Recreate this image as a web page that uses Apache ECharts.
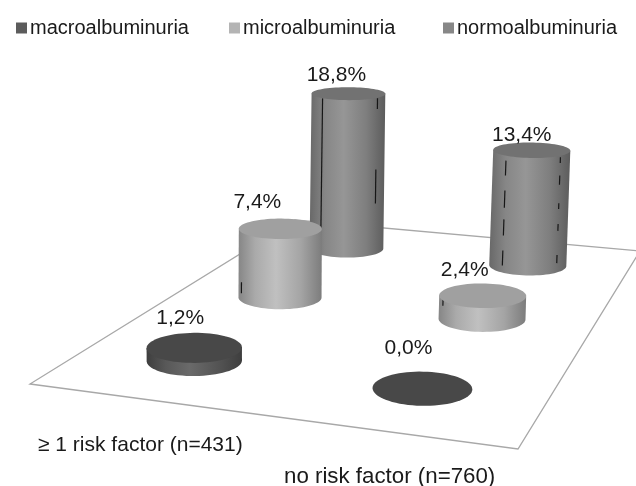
<!DOCTYPE html>
<html>
<head>
<meta charset="utf-8">
<style>html,body{margin:0;padding:0;background:#fff}#c{width:636px;height:486px}</style>
<script src="https://cdn.jsdelivr.net/npm/echarts@6/dist/echarts.min.js"></script>
</head>
<body>
<div id="c"></div>
<script>
// ---- data ----
const categories = ['\u2265 1 risk factor (n=431)', 'no risk factor (n=760)'];
const seriesNames = ['macroalbuminuria', 'microalbuminuria', 'normoalbuminuria'];
const macroalbuminuria = [1.2, 0.0];
const microalbuminuria = [7.4, 2.4];
const normoalbuminuria = [18.8, 13.4];

// ---- layout and style ----
const FAMILY = '"Liberation Sans", Arial, sans-serif';
const FONT = '21px ' + FAMILY;
const floorCorners = [[30, 384], [518, 449], [640, 251], [295, 220]]; // FL, FR, BR, BL
const depthOf = [1 / 6, 1 / 2, 5 / 6];
const screenNudge = [-1, -1.5, -2];
const legendColors = ['#5c5c5c', '#b4b4b4', '#878787'];
const legendLefts = [16, 229, 443];
const topColors = ['#484848', '#a0a0a0', '#727272'];
const sideStops = [
  ['#3e3e3e', '#585858', '#6a6a6a', '#545454', '#3e3e3e'],
  ['#868686', '#aaaaaa', '#c0c0c0', '#a4a4a4', '#7c7c7c'],
  ['#686868', '#868686', '#969696', '#7e7e7e', '#5c5c5c']
];
const labelOffsets = [
  [[-14, -30], [-14, -41]],
  [[-23, -27], [-18, -26]],
  [[-12, -18], [-10, -15]]
];
const categoryLabelPos = [[38, 445, 21], [284, 477, 22.3]];
const streaks = {
  '1-0': [[-.93, .78, .94]],
  '1-1': [[-.91, .14, .43]],
  '2-0': [[-.70, .03, .88], [.79, .03, .10], [.77, .49, .71]],
  '2-1': [[-.66, .09, .22], [-.66, .35, .50], [-.66, .60, .74], [-.66, .87, 1],
          [.75, .06, .11], [.75, .22, .30], [.75, .46, .51], [.75, .64, .70], [.75, .91, .98]]
};

// perspective map of the floor square
function makeHomography(q) {
  const [[x0, y0], [x1, y1], [x2, y2], [x3, y3]] = q;
  const dx1 = x1 - x2, dx2 = x3 - x2, sx = x0 - x1 + x2 - x3;
  const dy1 = y1 - y2, dy2 = y3 - y2, sy = y0 - y1 + y2 - y3;
  const det = dx1 * dy2 - dx2 * dy1;
  const g = (sx * dy2 - dx2 * sy) / det, h = (dx1 * sy - sx * dy1) / det;
  const a = x1 - x0 + g * x1, b = x3 - x0 + h * x3, d = y1 - y0 + g * y1, e = y3 - y0 + h * y3;
  return (u, v) => {
    const w = g * u + h * v + 1;
    return [(a * u + b * v + x0) / w, (d * u + e * v + y0) / w];
  };
}
const floorMap = makeHomography(floorCorners);
const RU = 0.1, RW = 0.067, N = 72;

function renderCylinder(params, api) {
  const s = seriesNames.indexOf(params.seriesName);
  const cs = params.coordSys;
  const pt = api.coord([api.value(0), 0]);
  const u = (pt[0] - cs.x) / cs.width;
  const v = depthOf[s];
  const cat = params.dataIndex;
  let base = [];
  for (let i = 0; i < N; i++) {
    const t = i / N * Math.PI * 2;
    const p = floorMap(u + RU * Math.cos(t), v + RW * Math.sin(t));
    base.push([p[0] + screenNudge[s], p[1]]);
  }
  let xs = base.map(p => p[0]);
  const minX = Math.min(...xs), maxX = Math.max(...xs);
  const iMin = xs.indexOf(minX), iMax = xs.indexOf(maxX);
  const cx = (minX + maxX) / 2;
  // ease the ellipse tilt: the reference's discs sit almost level
  const shear = 0.6 * (base[iMax][1] - base[iMin][1]) / (maxX - minX);
  base = base.map(p => [p[0], p[1] - (p[0] - cx) * shear]);
  const ys = base.map(p => p[1]);
  const cy = (Math.min(...ys) + Math.max(...ys)) / 2;
  const rx = (maxX - minX) / 2;
  const h = api.size([0, api.value(1)])[1] * 0.0223 * rx;
  const lean = (cx - 239) * 0.00012 * h;
  const flat = 1 - 0.002 * h;
  const top = base.map(p => [p[0] + lean, cy - h + (p[1] - cy) * flat]);
  const children = [];
  if (h > 0) {
    const arcA = [], arcB = [];
    for (let i = iMax; ; i = (i + 1) % N) { arcA.push(base[i]); if (i === iMin) break; }
    for (let i = iMax; ; i = (i - 1 + N) % N) { arcB.push(base[i]); if (i === iMin) break; }
    const mean = a => a.reduce((t, p) => t + p[1], 0) / a.length;
    const body = (mean(arcA) > mean(arcB) ? arcA : arcB).concat([top[iMin], top[iMax]]);
    const st = sideStops[s];
    children.push({
      type: 'polygon', shape: { points: body },
      style: {
        fill: { type: 'linear', x: 0, y: 0, x2: 1, y2: 0, colorStops: [
          { offset: 0, color: st[0] }, { offset: 0.2, color: st[1] },
          { offset: 0.45, color: st[2] }, { offset: 0.75, color: st[3] },
          { offset: 1, color: st[4] }] }
      }
    });
    (streaks[s + '-' + cat] || []).forEach(d => {
      const tx = cx + lean + d[0] * rx;
      const y0 = cy - h;
      children.push({
        type: 'line',
        shape: { x1: tx - lean * d[1], y1: y0 + h * d[1], x2: tx - lean * d[2], y2: y0 + h * d[2] },
        style: { stroke: '#161616', lineWidth: 1.2 }
      });
    });
  }
  children.push({ type: 'polygon', shape: { points: top }, style: { fill: topColors[s] } });
  const off = labelOffsets[s][cat];
  children.push({
    type: 'text',
    style: {
      text: api.value(1).toFixed(1).replace('.', ',') + '%',
      x: cx + lean + off[0], y: cy - h + off[1],
      font: FONT, fill: '#1a1a1a', textAlign: 'center', textVerticalAlign: 'middle'
    }
  });
  return { type: 'group', children };
}

function renderFloor() {
  const children = [{
    type: 'polygon', shape: { points: floorCorners },
    style: { fill: '#ffffff', stroke: '#a8a8a8', lineWidth: 1.3 }
  }];
  categories.forEach((c, i) => children.push({
    type: 'text',
    style: {
      text: c, x: categoryLabelPos[i][0], y: categoryLabelPos[i][1],
      font: categoryLabelPos[i][2] + 'px ' + FAMILY, fill: '#1a1a1a', textAlign: 'left', textVerticalAlign: 'middle'
    }
  }));
  return { type: 'group', children };
}

const chart = echarts.init(document.getElementById('c'), null, { renderer: 'canvas' });
const values = [macroalbuminuria, microalbuminuria, normoalbuminuria];
chart.setOption({
  animation: false,
  backgroundColor: '#ffffff',
  grid: { left: 0, top: 0, width: 636, height: 200 },
  xAxis: { type: 'category', data: categories, show: false },
  yAxis: { type: 'value', min: 0, max: 20, show: false },
  legend: seriesNames.map((name, i) => ({
    left: legendLefts[i] - 5, top: 13, itemWidth: 11, itemHeight: 11,
    icon: 'rect', selectedMode: false, data: [name],
    textStyle: { fontFamily: FAMILY, fontSize: 20, color: '#1a1a1a', padding: [0, 0, 0, -2] }
  })),
  series: [
    { type: 'custom', name: '__floor', silent: true, z: 1, coordinateSystem: 'cartesian2d', renderItem: renderFloor, data: [[0, 0]] }
  ].concat(seriesNames.map((name, s) => ({
    type: 'custom', name, coordinateSystem: 'cartesian2d', silent: true,
    z: 5 - s,
    itemStyle: { color: legendColors[s] },
    renderItem: renderCylinder,
    encode: { x: 0, y: 1 },
    data: values[s].map((v, i) => [i, v])
  })))
});
</script>
</body>
</html>
